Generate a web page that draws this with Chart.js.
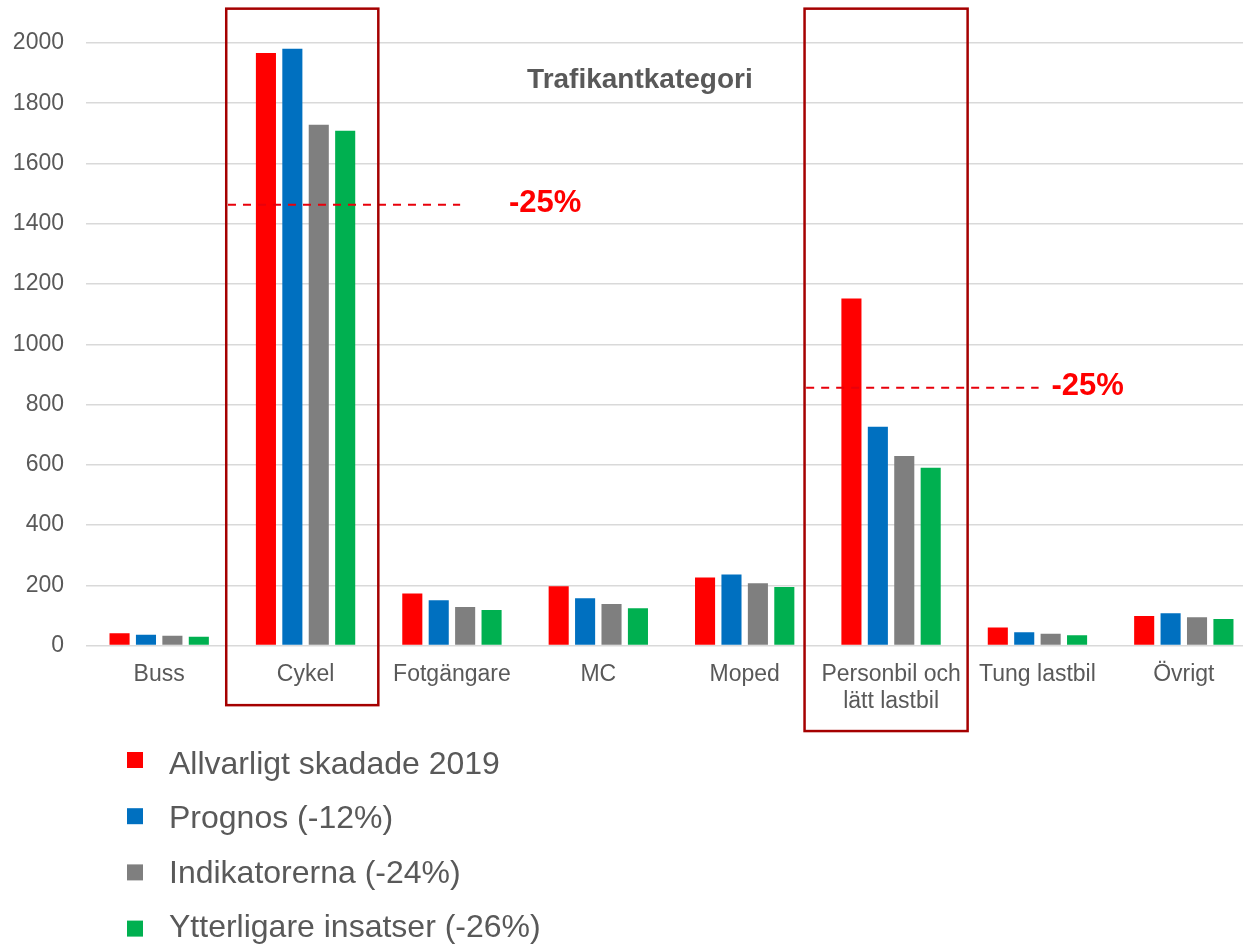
<!DOCTYPE html>
<html>
<head>
<meta charset="utf-8">
<script src="https://cdn.jsdelivr.net/npm/chart.js@4"></script>
<style>
  html, body { margin: 0; padding: 0; background: #ffffff; overflow: hidden; }
  #wrap { width: 1257px; height: 945px; }
</style>
</head>
<body>
<div id="wrap"><canvas id="chart"></canvas></div>
<script>
const categories = ['Buss', 'Cykel', 'Fotgängare', 'MC', 'Moped', ['Personbil och', 'lätt lastbil'], 'Tung lastbil', 'Övrigt'];
const seriesNames = ['Allvarligt skadade 2019', 'Prognos (-12%)', 'Indikatorerna (-24%)', 'Ytterligare insatser (-26%)'];
const skadade2019 = [41, 1967, 173, 197, 226, 1152, 60, 98];
const prognos = [36, 1981, 150, 157, 236, 726, 44, 107];
const indikatorerna = [32, 1729, 128, 138, 207, 629, 39, 94];
const ytterligare = [29, 1709, 118, 124, 194, 590, 34, 88];
const yTicks = [0, 200, 400, 600, 800, 1000, 1200, 1400, 1600, 1800, 2000];
const targetValues = [1463, 856];
const targetLabels = ['-25%', '-25%'];

const colors = ['#FF0000', '#0070C0', '#7F7F7F', '#00B050'];
const textColor = '#595959';
const fontFamily = '"Liberation Sans", Arial, sans-serif';

// hand-drawn boxes and -25% lines, positioned in category widths
const boxes = [
  { cat: 1, left: -0.542, right: 0.497, top: 2114, bottom: -198 },
  { cat: 5, left: -0.591, right: 0.523, top: 2114, bottom: -284 }
];
const targets = [
  { cat: 1, from: -0.53, to: 1.056, labelX: 1.637 },
  { cat: 5, from: -0.58, to: 1.008, labelX: 1.343 }
];

const annotationPlugin = {
  id: 'annotations',
  afterDatasetsDraw: function(chart) {
    const ctx = chart.ctx;
    const x = chart.scales.x;
    const y = chart.scales.y;
    const catW = x.width / categories.length;

    ctx.save();
    // dashed target lines
    ctx.strokeStyle = '#E8000B';
    ctx.lineWidth = 2;
    ctx.setLineDash([8, 7]);
    for (let i = 0; i < targets.length; i++) {
      const t = targets[i];
      const cx = x.getPixelForValue(t.cat);
      const py = y.getPixelForValue(targetValues[i]);
      ctx.beginPath();
      ctx.moveTo(cx + t.from * catW, py);
      ctx.lineTo(cx + t.to * catW, py);
      ctx.stroke();
    }
    ctx.setLineDash([]);

    // labels
    ctx.fillStyle = '#FF0000';
    ctx.font = 'bold 31px ' + fontFamily;
    ctx.textAlign = 'center';
    ctx.textBaseline = 'middle';
    for (let i = 0; i < targets.length; i++) {
      const t = targets[i];
      const cx = x.getPixelForValue(t.cat);
      const py = y.getPixelForValue(targetValues[i]);
      ctx.fillText(targetLabels[i], cx + t.labelX * catW, py - 1);
    }

    // boxes
    ctx.strokeStyle = '#A50000';
    ctx.lineWidth = 2.5;
    for (const b of boxes) {
      const cx = x.getPixelForValue(b.cat);
      const l = cx + b.left * catW;
      const r = cx + b.right * catW;
      const t = y.getPixelForValue(b.top);
      const bt = y.getPixelForValue(b.bottom);
      ctx.strokeRect(l, t, r - l, bt - t);
    }

    // title
    ctx.fillStyle = textColor;
    ctx.font = 'bold 28px ' + fontFamily;
    ctx.textAlign = 'center';
    ctx.textBaseline = 'middle';
    ctx.fillText('Trafikantkategori', x.getPixelForValue(3) + 0.284 * catW, y.getPixelForValue(1876));
    ctx.restore();
  },
  afterDraw: function(chart) {
    // vertical legend below the axis
    const ctx = chart.ctx;
    ctx.save();
    ctx.font = '32px ' + fontFamily;
    ctx.textAlign = 'left';
    ctx.textBaseline = 'alphabetic';
    chart.data.datasets.forEach(function(ds, i) {
      const cy = 760 + i * 56.2;
      ctx.fillStyle = ds.backgroundColor;
      ctx.fillRect(127, cy - 8, 16, 16);
      ctx.fillStyle = textColor;
      ctx.fillText(ds.label, 169, 774.3 + i * 54.1);
    });
    ctx.restore();
  }
};

const seriesData = [skadade2019, prognos, indikatorerna, ytterligare];

new Chart(document.getElementById('chart'), {
  type: 'bar',
  data: {
    labels: categories,
    datasets: seriesData.map(function(d, i) {
      return {
        label: seriesNames[i],
        data: d,
        backgroundColor: colors[i],
        categoryPercentage: 0.722,
        barPercentage: 0.76
      };
    })
  },
  plugins: [annotationPlugin],
  options: {
    responsive: true,
    maintainAspectRatio: false,
    animation: false,
    layout: { padding: { top: 43, left: 0, right: 0, bottom: 0 } },
    plugins: {
      legend: { display: false },
      tooltip: { enabled: false },
      title: { display: false }
    },
    scales: {
      x: {
        grid: { display: false, drawTicks: false },
        border: { display: false },
        ticks: {
          color: textColor,
          font: { family: fontFamily, size: 23, lineHeight: 1.17 },
          padding: 16,
          maxRotation: 0,
          autoSkip: false
        },
        afterFit: function(scale) { scale.height = 299.5; }
      },
      y: {
        min: 0,
        max: 2000,
        afterBuildTicks: function(scale) {
          scale.ticks = yTicks.map(function(v) { return { value: v }; });
        },
        grid: { color: '#D9D9D9', lineWidth: 1.5, drawTicks: false },
        border: { display: false },
        ticks: {
          color: textColor,
          font: { family: fontFamily, size: 23 },
          padding: 22,
          callback: function(value) { return String(value); }
        },
        afterFit: function(scale) { scale.width = 86; }
      }
    }
  }
});
</script>
</body>
</html>
